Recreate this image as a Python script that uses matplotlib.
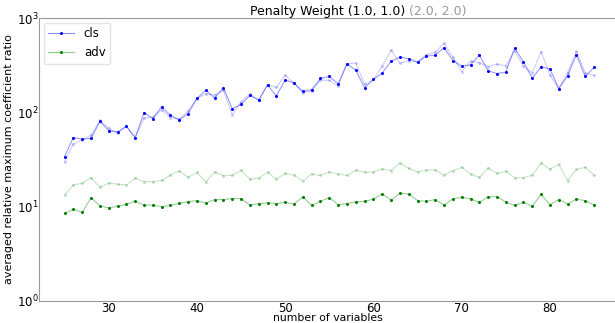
import numpy as np
import matplotlib
matplotlib.use('Agg')
import matplotlib.pyplot as plt

# number of variables
n_vars = list(range(25, 86))

# penalty weight (1.0, 1.0)
cls_1 = [34, 54, 52, 53, 80, 64, 62, 71, 54, 99,
         86, 114, 93, 83, 97, 141, 171, 142, 182, 109,
         122, 151, 135, 195, 149, 221, 204, 167, 174, 229,
         240, 200, 327, 280, 182, 223, 262, 349, 385, 369,
         341, 394, 404, 486, 354, 309, 319, 404, 275, 258,
         267, 482, 343, 229, 304, 289, 178, 244, 410, 240, 299]
adv_1 = [8.5, 9.4, 8.7, 12.4, 10.2, 9.7, 10.1, 10.6, 11.4, 10.4,
         10.4, 10.0, 10.3, 10.9, 11.3, 11.6, 10.9, 11.9, 11.9, 12.2,
         12.2, 10.4, 10.8, 11.0, 10.8, 11.1, 10.7, 12.7, 10.3, 11.4,
         12.5, 10.5, 10.8, 11.3, 11.4, 12.0, 13.7, 11.7, 13.9, 13.6,
         11.6, 11.4, 11.9, 10.4, 12.1, 12.6, 12.1, 11.1, 12.7, 12.8,
         11.2, 10.3, 11.1, 10.1, 13.5, 10.5, 11.9, 10.7, 12.0, 11.6, 10.4]

# penalty weight (2.0, 2.0)
cls_2 = [30, 46, 51, 57, 82, 68, 60, 71, 54, 87,
         89, 106, 88, 85, 104, 140, 157, 153, 171, 94,
         130, 156, 135, 195, 184, 248, 204, 160, 169, 220,
         218, 190, 327, 333, 198, 223, 311, 456, 333, 352,
         341, 410, 431, 541, 387, 269, 349, 335, 306, 324,
         311, 448, 309, 264, 438, 250, 178, 264, 445, 261, 246]
adv_2 = [13.3, 17.0, 17.7, 20.3, 16.0, 17.8, 17.3, 17.0, 20.0, 18.4,
         18.4, 19.0, 21.6, 24.1, 20.4, 23.1, 18.3, 23.4, 21.3, 21.5,
         24.2, 19.6, 20.0, 23.2, 19.6, 22.5, 21.6, 18.7, 22.3, 21.4,
         23.4, 22.3, 21.4, 24.4, 23.2, 23.2, 25.2, 24.1, 29.0, 25.4,
         23.4, 24.4, 24.6, 21.5, 24.1, 26.1, 22.3, 20.4, 25.7, 22.5,
         23.7, 20.3, 20.3, 21.6, 29.0, 25.0, 28.1, 18.8, 24.8, 26.1, 21.5]

fig = plt.figure(figsize=(6.15, 3.23), dpi=100)
ax = fig.add_axes([39 / 615, 22 / 323, 578 / 615, 283 / 323])

# faint series first, then the main one on top
ax.plot(n_vars, cls_2, color='blue', alpha=0.2, linewidth=0.8,
        marker='o', markersize=2.2, markeredgewidth=0)
ax.plot(n_vars, adv_2, color='green', alpha=0.22, linewidth=0.8,
        marker='o', markersize=2.2, markeredgewidth=0)
ax.plot(n_vars, cls_1, color='blue', alpha=0.4, linewidth=0.8)
ax.plot(n_vars, cls_1, color='blue', linestyle='none',
        marker='o', markersize=2.2, markeredgewidth=0)
ax.plot(n_vars, adv_1, color='green', alpha=0.4, linewidth=0.8)
ax.plot(n_vars, adv_1, color='green', linestyle='none',
        marker='o', markersize=2.2, markeredgewidth=0)

# legend handles
h_cls, = ax.plot([], [], color=(0.55, 0.55, 1.0), linewidth=0.8,
                 marker='o', markersize=2.2, markeredgewidth=0,
                 markerfacecolor='blue')
h_adv, = ax.plot([], [], color=(0.55, 0.8, 0.55), linewidth=0.8,
                 marker='o', markersize=2.2, markeredgewidth=0,
                 markerfacecolor='green')
ax.legend([h_cls, h_adv], ['cls', 'adv'], loc='upper left', fontsize=8.5,
          frameon=True, edgecolor='#dddddd', handlelength=2.2,
          borderaxespad=0.4, handletextpad=0.8)

ax.set_yscale('log')
ax.set_ylim(1, 1000)
ax.set_xlim(22.1, 87.6)
ax.set_xticks([30, 40, 50, 60, 70, 80])
ax.tick_params(length=0, labelsize=8.5, pad=0.5)
ax.minorticks_off()
for side in ['left', 'bottom', 'top']:
    ax.spines[side].set_color('#999999')
ax.spines['right'].set_visible(False)

ax.set_xlabel('number of variables', fontsize=7.8, labelpad=-1)
ax.set_ylabel('averaged relative maximum coefficient ratio', fontsize=8, labelpad=2)

t = ax.text(0.5, 1.0, 'Penalty Weight (1.0, 1.0)', transform=ax.transAxes,
            ha='center', va='bottom', fontsize=9, color='black')
fig.canvas.draw()
bb = t.get_window_extent()
x1, y0 = fig.transFigure.inverted().transform((bb.x1, bb.y0))
fig.text(x1 + 0.006, y0, '(2.0, 2.0)', ha='left', va='bottom',
         fontsize=9, color='#999999')

fig.savefig('out.png', dpi=100)
